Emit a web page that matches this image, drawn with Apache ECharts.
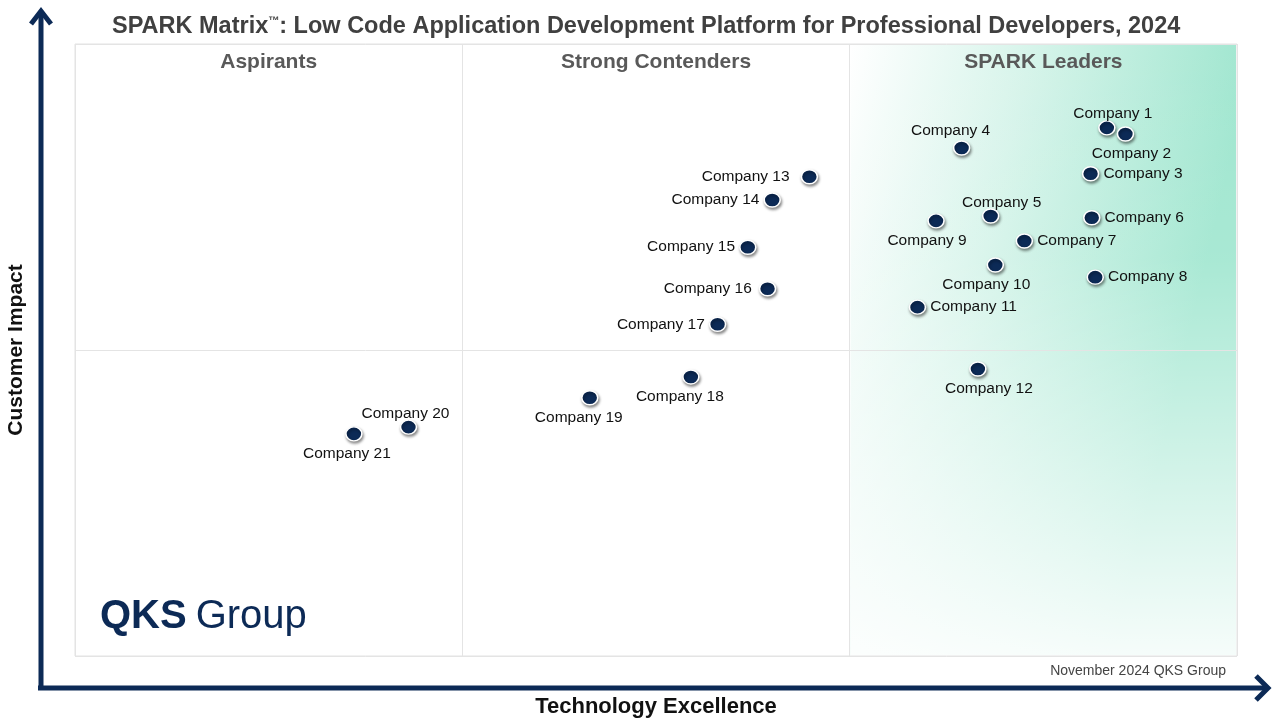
<!DOCTYPE html>
<html><head><meta charset="utf-8">
<script src="https://cdn.jsdelivr.net/npm/echarts@6/dist/echarts.min.js"></script>
<style>html,body{margin:0;padding:0;background:#fff}#c{width:1280px;height:720px}</style>
</head><body><div id="c"></div>
<script>
const companies = ['Company 1','Company 2','Company 3','Company 4','Company 5','Company 6','Company 7','Company 8','Company 9','Company 10','Company 11','Company 12','Company 13','Company 14','Company 15','Company 16','Company 17','Company 18','Company 19','Company 20','Company 21'];
const technologyExcellence = [88.8,90.4,87.4,76.3,78.8,87.5,81.7,87.8,74.1,79.2,72.5,77.7,63.2,60.0,57.9,59.6,55.3,53.0,44.3,28.7,24.0];
const customerImpact = [86.3,85.3,78.8,83.0,71.9,71.6,67.8,61.9,71.1,63.9,57.0,46.9,78.3,74.5,66.8,60.0,54.2,45.6,42.2,37.4,36.3];
const labelPositions = ['top','bottom','right','top','top','right','right','right','bottom','bottom','right','bottom','left','left','left','left','left','bottom','bottom','top','bottom'];
const labelShiftX = [6,6,0,-11,11,0,0,0,-9,-9,0,11,-7,0,0,-3,0,-11,-11,-3,-7];
const quadrantNames = ['Aspirants','Strong Contenders','SPARK Leaders'];

const G = {left:75, top:44, width:1162, height:612};
const navy = '#0c2a56';
const chart = echarts.init(document.getElementById('c'));
const fontFam = '"Liberation Sans", Arial, sans-serif';

const data = companies.map((n,i)=>({
  name:n, value:[technologyExcellence[i], customerImpact[i]],
  label:{position:labelPositions[i], offset:[labelShiftX[i], 0],
    distance: labelPositions[i]==='top' ? (n==='Company 4' ? 2 : -2) : 4}
}));

const thirdW = G.width/3;
const quadGraphics = quadrantNames.map((t,i)=>({
  type:'text', z:10,
  x: G.left + thirdW*(i+0.5), y: 62,
  style:{text:t, fill:'#595959', font:'bold 21px '+fontFam, textAlign:'center', textVerticalAlign:'middle'}
}));

chart.setOption({
  animation:false,
  title:{text:'SPARK Matrix{tm|\u2122}: Low Code Application Development Platform for Professional Developers, 2024',
    left:107, top:10, textStyle:{fontSize:23.5, fontWeight:'bold', color:'#404040', fontFamily:fontFam,
      rich:{tm:{fontSize:11, fontWeight:'bold', color:'#404040', fontFamily:fontFam, verticalAlign:'top', padding:[0,0,10,0]}}}},
  grid:{left:G.left, top:G.top, width:G.width, height:G.height, show:true, borderColor:'#e2e2e2', borderWidth:1, backgroundColor:'transparent', containLabel:false, outerBoundsMode:'none'},
  xAxis:{type:'value', min:0, max:100, interval:100/3,
    name:'Technology Excellence', nameLocation:'middle', nameGap:40,
    nameTextStyle:{fontSize:22, fontWeight:'bold', color:'#111', fontFamily:fontFam},
    axisLine:{show:false}, axisTick:{show:false}, axisLabel:{show:false},
    splitLine:{show:true, lineStyle:{color:'#e4e4e4', width:1}}},
  yAxis:{type:'value', min:0, max:100, interval:50,
    name:'Customer Impact', nameLocation:'middle', nameGap:48,
    nameTextStyle:{fontSize:21, fontWeight:'bold', color:'#111', fontFamily:fontFam},
    axisLine:{show:false}, axisTick:{show:false}, axisLabel:{show:false},
    splitLine:{show:true, lineStyle:{color:'#e4e4e4', width:1}}},
  graphic:[
    {type:'rect', z:-10, shape:{x:G.left+thirdW*2+1, y:G.top+1, width:thirdW-2, height:G.height-2},
      style:{fill:new echarts.graphic.LinearGradient(0,0,1,0.15,[{offset:0,color:'#ffffff'},{offset:0.45,color:'#d6f4ea'},{offset:1,color:'#9fe6cf'}])}},
    {type:'rect', z:-9, shape:{x:G.left+thirdW*2+1, y:G.top+1, width:thirdW-2, height:G.height-2},
      style:{fill:new echarts.graphic.LinearGradient(0,0,0,1,[{offset:0,color:'rgba(255,255,255,0)'},{offset:0.35,color:'rgba(255,255,255,0.1)'},{offset:1,color:'rgba(255,255,255,0.9)'}])}},
    ...quadGraphics,
    {type:'text', x:100, y:617, z:10,
      style:{text:'{a|QKS}{b|Group}', textVerticalAlign:'middle',
        rich:{a:{font:'bold 40px '+fontFam, fill:navy}, b:{font:'40px '+fontFam, fill:navy, padding:[0,0,0,9]}}}},
    {type:'text', x:1226, y:671, z:10,
      style:{text:'November 2024 QKS Group', font:'14px '+fontFam, fill:'#444', textAlign:'right', textVerticalAlign:'middle'}},
    // y arrow
    {type:'line', z:20, shape:{x1:41, y1:690, x2:41, y2:12}, style:{stroke:navy, lineWidth:5}},
    {type:'polyline', z:20, shape:{points:[[31,24],[41,11],[51,24]]}, style:{stroke:navy, lineWidth:5, fill:null}},
    // x arrow
    {type:'line', z:20, shape:{x1:38, y1:688, x2:1266, y2:688}, style:{stroke:navy, lineWidth:5}},
    {type:'polyline', z:20, shape:{points:[[1256,676],[1268,688],[1256,700]]}, style:{stroke:navy, lineWidth:5, fill:null}}
  ],
  series:[{
    type:'scatter', data:data, symbol:'circle', symbolSize:[16,14],
    itemStyle:{color:navy, borderColor:'#ffffff', borderWidth:1.5, shadowColor:'rgba(0,0,0,0.45)', shadowBlur:3, shadowOffsetX:1, shadowOffsetY:2, opacity:1},
    label:{show:true, formatter:'{b}', fontSize:15.5, color:'#111', fontFamily:fontFam, distance:4}
  }]
});
</script></body></html>
